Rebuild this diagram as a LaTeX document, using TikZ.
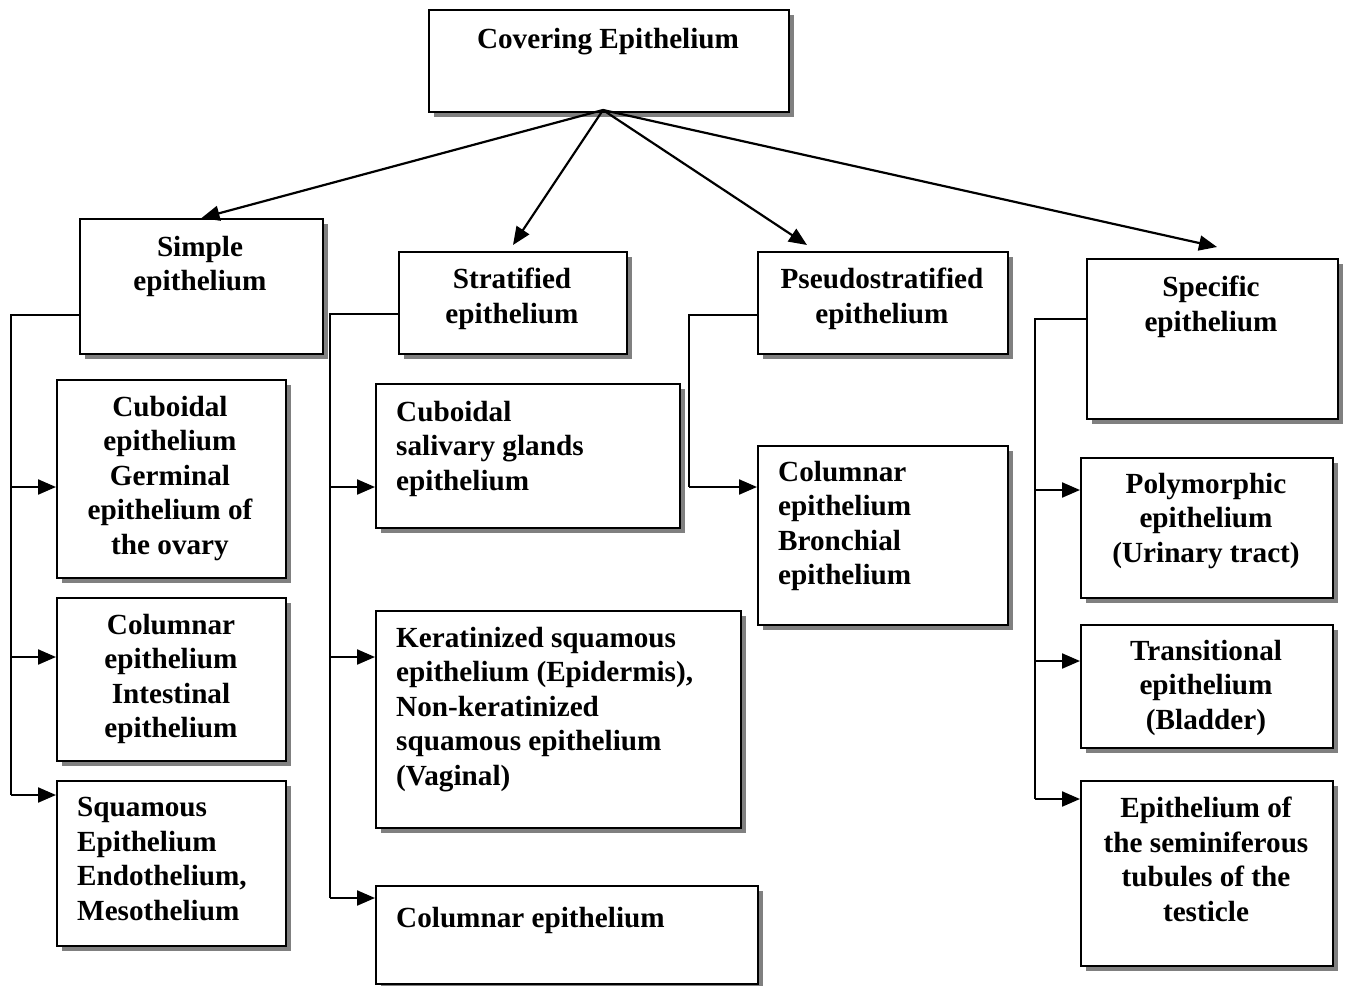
\documentclass[tikz,border=0pt]{standalone}
\usepackage{fontspec}
\setmainfont{Liberation Serif}
\usetikzlibrary{arrows.meta,shadows,calc}
\begin{document}
\begin{tikzpicture}[x=1pt,y=-1pt,
 box/.style={draw=black,line width=2pt,fill=white,inner sep=0pt,anchor=north west,
   drop shadow={shadow xshift=5pt,shadow yshift=-5pt,fill=black!50,opacity=1}},
 txt/.style={inner sep=0pt,font=\fontsize{29.2}{34.5}\selectfont\bfseries,execute at begin node=\strut},
 ctxt/.style={txt,align=center,anchor=north},
 ltxt/.style={txt,align=left,anchor=north west},
 arr/.style={line width=2.2pt,-{Triangle[length=18pt,width=15pt]}},
 trunk/.style={line width=2.2pt}]
\useasboundingbox (0,0) rectangle (1349,985);
% boxes
\node[box,minimum width=360,minimum height=102] (top) at (428,9) {};
\node[box,minimum width=243,minimum height=135] (simple) at (79,218) {};
\node[box,minimum width=228,minimum height=102] (strat) at (398,251) {};
\node[box,minimum width=250,minimum height=102] (pseudo) at (757,251) {};
\node[box,minimum width=251,minimum height=160] (spec) at (1086,258) {};
\node[box,minimum width=229,minimum height=198] (cub) at (56,379) {};
\node[box,minimum width=229,minimum height=163] (col) at (56,597) {};
\node[box,minimum width=229,minimum height=165] (squ) at (56,780) {};
\node[box,minimum width=304,minimum height=144] (sal) at (375,383) {};
\node[box,minimum width=365,minimum height=217] (ker) at (375,610) {};
\node[box,minimum width=382,minimum height=98] (colb) at (375,885) {};
\node[box,minimum width=250,minimum height=179] (pcol) at (757,445) {};
\node[box,minimum width=252,minimum height=140] (poly) at (1080,457) {};
\node[box,minimum width=252,minimum height=123] (trans) at (1080,624) {};
\node[box,minimum width=252,minimum height=185] (semi) at (1080,780) {};
% texts
\node[ctxt] (ttop) at (608,24) {Covering Epithelium};
\node[ctxt] (tsimple) at (200,236) {Simple\\epithelium};
\node[ctxt] (tstrat) at (512,268) {Stratified\\epithelium};
\node[ctxt] (tpseudo) at (882,268) {Pseudostratified\\epithelium};
\node[ctxt] (tspec) at (1211,276) {Specific\\epithelium};
\node[ctxt] (tcub) at (170,396) {Cuboidal\\epithelium\\Germinal\\epithelium of\\the ovary};
\node[ctxt] (tcol) at (171,614) {Columnar\\epithelium\\Intestinal\\epithelium};
\node[ltxt] (tsqu) at (77,797) {Squamous\\Epithelium\\Endothelium,\\Mesothelium};
\node[ltxt] (tsal) at (396,401) {Cuboidal\\salivary glands\\epithelium};
\node[ltxt] (tker) at (396,627) {Keratinized squamous\\epithelium (Epidermis),\\Non-keratinized\\squamous epithelium\\(Vaginal)};
\node[ltxt] (tcolb) at (396,903) {Columnar epithelium};
\node[ltxt] (tpcol) at (778,461) {Columnar\\epithelium\\Bronchial\\epithelium};
\node[ctxt] (tpoly) at (1206,473) {Polymorphic\\epithelium\\(Urinary tract)};
\node[ctxt] (ttrans) at (1206,640) {Transitional\\epithelium\\(Bladder)};
\node[ctxt] (tsemi) at (1206,797) {Epithelium of\\the seminiferous\\tubules of the\\testicle};
% top arrows
\coordinate (src) at (603,110);
\coordinate (e2) at (513,245);
\coordinate (e3) at (807,245);
\coordinate (e4) at (1217,247);
\draw[arr] (src) -- (simple.north);
\draw[arr] (src) -- (e2);
\draw[arr] (src) -- (e3);
\draw[arr] (src) -- (e4);
% simple trunk
\coordinate (s0) at (11,315);
\coordinate (s1) at (11,487);
\coordinate (s2) at (11,657);
\coordinate (s3) at (11,795);
\draw[trunk] (s0 -| simple.west) -- (s0) -- (s3);
\draw[arr] (s1) -- (s1 -| cub.west);
\draw[arr] (s2) -- (s2 -| col.west);
\draw[arr] (s3) -- (s3 -| squ.west);
% stratified trunk
\coordinate (r0) at (330,314);
\coordinate (r1) at (330,487);
\coordinate (r2) at (330,657);
\coordinate (r3) at (330,898);
\draw[trunk] (r0 -| strat.west) -- (r0) -- (r3);
\draw[arr] (r1) -- (r1 -| sal.west);
\draw[arr] (r2) -- (r2 -| ker.west);
\draw[arr] (r3) -- (r3 -| colb.west);
% pseudostratified trunk
\coordinate (p0) at (689,315);
\coordinate (p1) at (689,487);
\draw[trunk] (p0 -| pseudo.west) -- (p0) -- (p1);
\draw[arr] (p1) -- (p1 -| pcol.west);
% specific trunk
\coordinate (q0) at (1035,319);
\coordinate (q1) at (1035,490);
\coordinate (q2) at (1035,661);
\coordinate (q3) at (1035,799);
\draw[trunk] (q0 -| spec.west) -- (q0) -- (q3);
\draw[arr] (q1) -- (q1 -| poly.west);
\draw[arr] (q2) -- (q2 -| trans.west);
\draw[arr] (q3) -- (q3 -| semi.west);
\end{tikzpicture}
\end{document}
